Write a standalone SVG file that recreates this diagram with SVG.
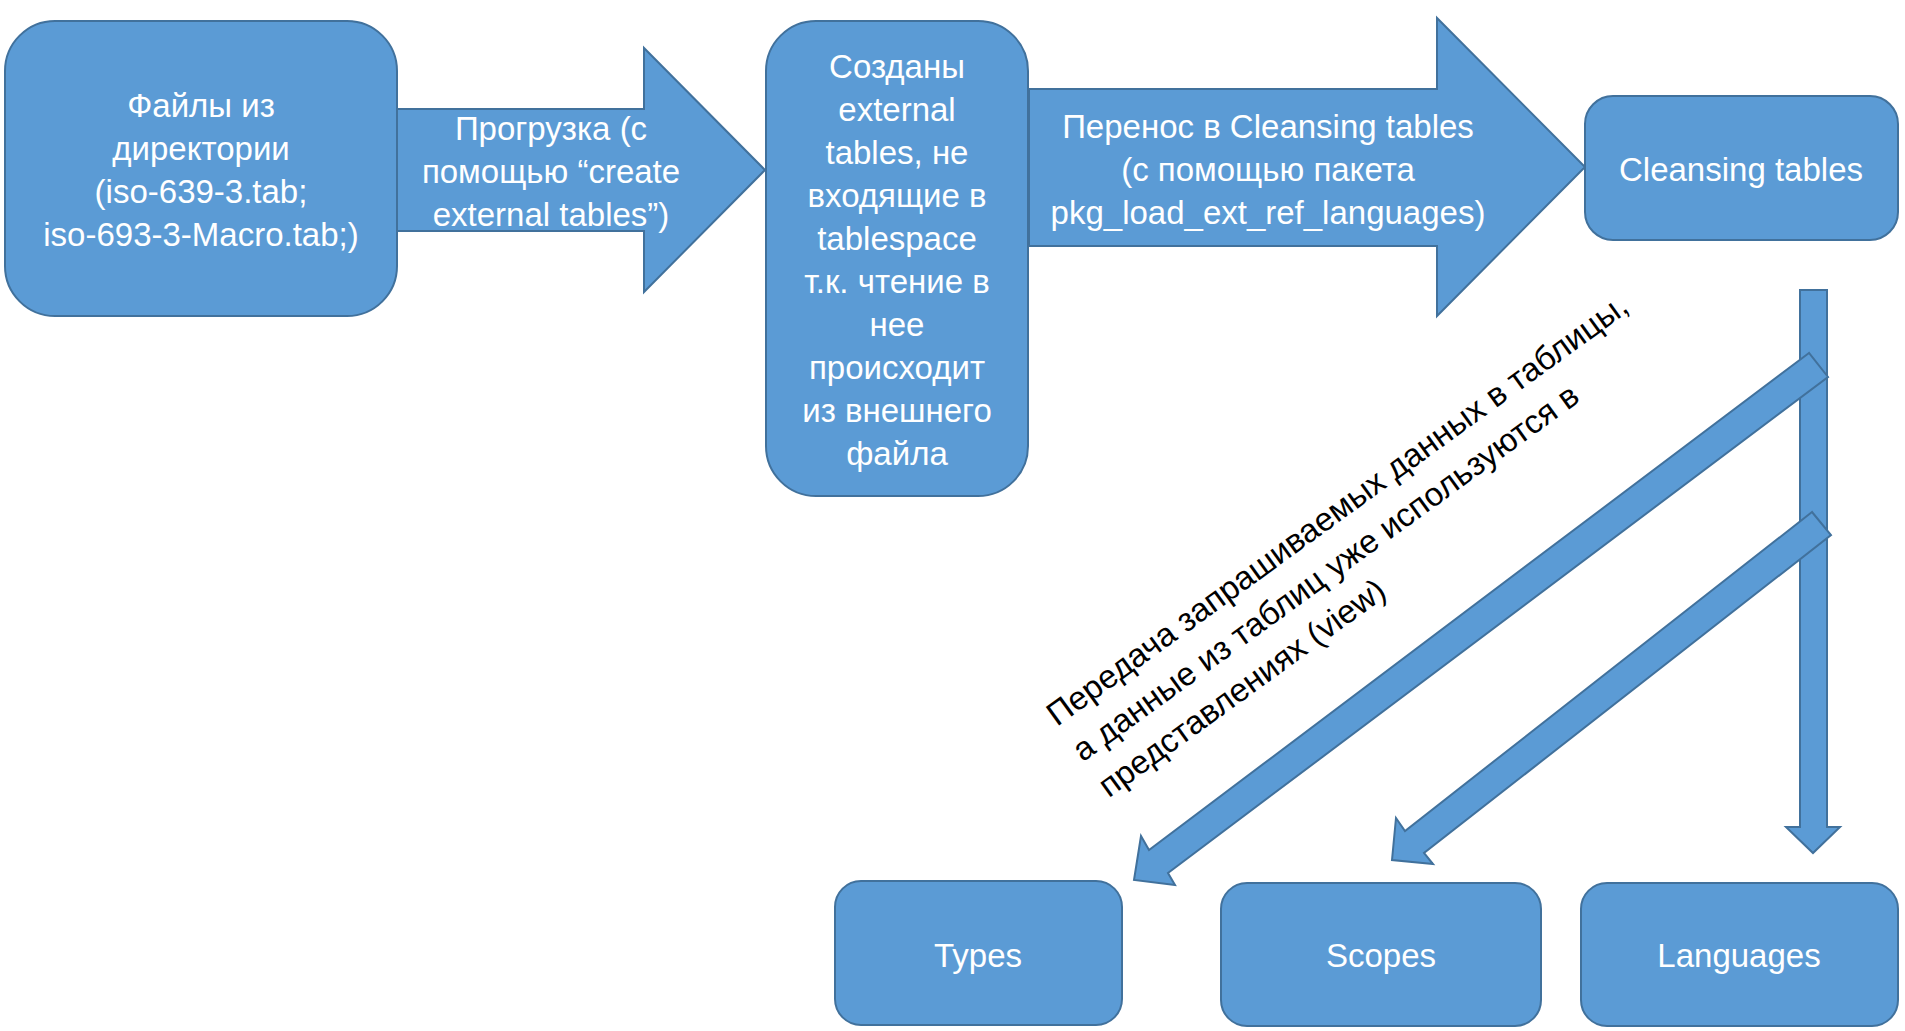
<svg xmlns="http://www.w3.org/2000/svg" width="1905" height="1031" viewBox="0 0 1905 1031">
<style>
.shape{fill:#5B9BD5;stroke:#41719C;stroke-width:2}
.wt{font-family:"Liberation Sans",Arial,sans-serif;font-size:33px;fill:#FFFFFF;text-anchor:middle}
.bt{font-family:"Liberation Sans",Arial,sans-serif;font-size:33px;fill:#000000}
</style>
<rect width="1905" height="1031" fill="#FFFFFF"/>
<g id="connectors">
  <g id="arrow-load">
    <polygon class="shape" points="397,109 644,109 644,48 765,170 644,292 644,231 397,231"/>
    <text class="wt"><tspan x="551" y="140">Прогрузка (с</tspan><tspan x="551" y="183">помощью “create</tspan><tspan x="551" y="226">external tables”)</tspan></text>
  </g>
  <g id="arrow-transfer">
    <polygon class="shape" points="1029,89 1437,89 1437,18 1585,167 1437,316 1437,246 1029,246"/>
    <text class="wt"><tspan x="1268" y="138">Перенос в Cleansing tables</tspan><tspan x="1268" y="181">(с помощью пакета</tspan><tspan x="1268" y="224">pkg_load_ext_ref_languages)</tspan></text>
  </g>
  <polygon id="arrow-languages" class="shape" points="1800,290 1827,290 1827,827 1840,827 1813,853 1786,827 1800,827"/>
  <polygon id="arrow-types" class="shape" points="1809,353 1149,850 1141,836 1134,880 1175,885 1168,873 1828,377"/>
  <polygon id="arrow-scopes" class="shape" points="1812,512 1405,831 1396,818 1392,860 1433,864 1424,853 1831,535"/>
  <text class="bt" transform="translate(1057,727) rotate(-36)"><tspan x="0" y="0">Передача запрашиваемых данных в таблицы,</tspan><tspan x="0" y="44">а данные из таблиц уже используются в</tspan><tspan x="0" y="88">представлениях (view)</tspan></text>
</g>
<g id="node-files">
  <rect class="shape" x="5" y="21" width="392" height="295" rx="50" ry="50"/>
  <text class="wt"><tspan x="201" y="117">Файлы из</tspan><tspan x="201" y="160">директории</tspan><tspan x="201" y="203">(iso-639-3.tab;</tspan><tspan x="201" y="246">iso-693-3-Macro.tab;)</tspan></text>
</g>
<g id="node-external">
  <rect class="shape" x="766" y="21" width="262" height="475" rx="50" ry="50"/>
  <text class="wt"><tspan x="897" y="78">Созданы</tspan><tspan x="897" y="121">external</tspan><tspan x="897" y="164">tables, не</tspan><tspan x="897" y="207">входящие в</tspan><tspan x="897" y="250">tablespace</tspan><tspan x="897" y="293">т.к. чтение в</tspan><tspan x="897" y="336">нее</tspan><tspan x="897" y="379">происходит</tspan><tspan x="897" y="422">из внешнего</tspan><tspan x="897" y="465">файла</tspan></text>
</g>
<g id="node-cleansing">
  <rect class="shape" x="1585" y="96" width="313" height="144" rx="28" ry="28"/>
  <text class="wt" x="1741" y="181">Cleansing tables</text>
</g>
<g id="node-types">
  <rect class="shape" x="835" y="881" width="287" height="144" rx="26" ry="26"/>
  <text class="wt" x="978" y="967">Types</text>
</g>
<g id="node-scopes">
  <rect class="shape" x="1221" y="883" width="320" height="143" rx="26" ry="26"/>
  <text class="wt" x="1381" y="967">Scopes</text>
</g>
<g id="node-languages">
  <rect class="shape" x="1581" y="883" width="317" height="143" rx="26" ry="26"/>
  <text class="wt" x="1739" y="967">Languages</text>
</g>
</svg>
